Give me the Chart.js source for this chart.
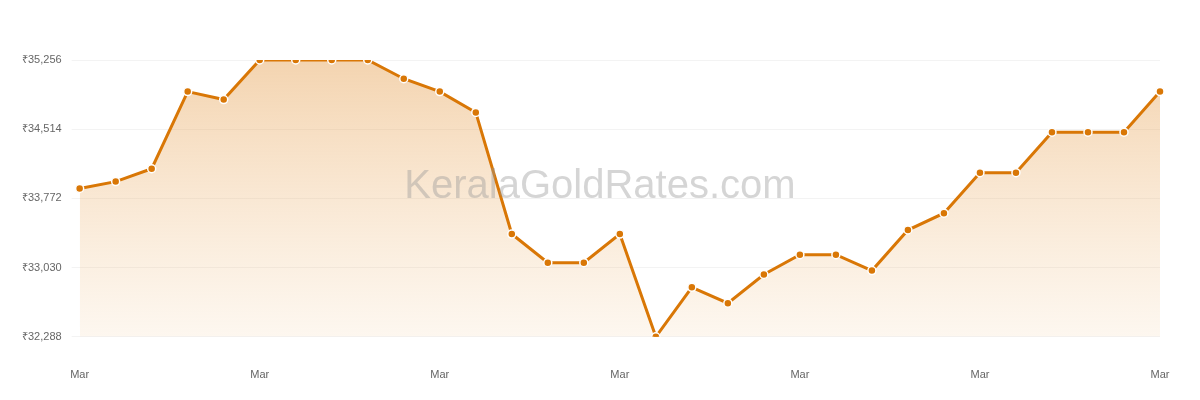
<!DOCTYPE html>
<html lang="en">
<head>
<meta charset="UTF-8">
<title>Gold rate chart</title>
<script src="https://cdn.jsdelivr.net/npm/chart.js"></script>
<style>
    body { margin: 0; background: #fff; font-family: "Liberation Sans", Arial, sans-serif; overflow: hidden; }
    .wrap { position: relative; width: 1200px; height: 400px; overflow: hidden; }
    .mark { position: absolute; left: 0; width: 1200px; top: 162px; text-align: center;
            font-size: 40px; color: rgba(150,150,150,0.4); pointer-events: none; }
</style>
</head>
<body>
<div class="wrap">
    <canvas id="rateChart" width="1200" height="406"></canvas>
    <div class="mark">KeralaGoldRates.com</div>
</div>
<script>
    // dias de marzo
    const days = Array.from({ length: 31 }, (_, i) => i + 1);
    const rates = [33878, 33952, 34090, 34917, 34832, 35256, 35256, 35256, 35256, 35055,
                   34917, 34694, 33390, 33083, 33083, 33390, 32288, 32818, 32648, 32956,
                   33168, 33168, 32998, 33433, 33613, 34048, 34048, 34482, 34482, 34482, 34917];
    const yTicks = [32288, 33030, 33772, 34514, 35256];
    const monthLabel = 'Mar';

    const ctx = document.getElementById('rateChart').getContext('2d');
    const grad = ctx.createLinearGradient(0, 60, 0, 340);
    grad.addColorStop(0, 'rgba(230,160,80,0.45)');
    grad.addColorStop(1, 'rgba(240,190,130,0.12)');

    new Chart(ctx, {
        type: 'line',
        data: {
            labels: days,
            datasets: [{
                data: rates,
                borderColor: '#d97706',
                borderWidth: 3,
                backgroundColor: grad,
                fill: 'start',
                tension: 0,
                pointRadius: 4,
                pointBackgroundColor: '#d97706',
                pointBorderColor: '#fff',
                pointBorderWidth: 1.5
            }]
        },
        options: {
            responsive: false,
            animation: false,
            layout: { padding: { left: 12, right: 40, top: 60, bottom: 0 } },
            plugins: { legend: { display: false }, tooltip: { enabled: false } },
            scales: {
                x: {
                    grid: { display: false },
                    border: { display: false },
                    ticks: {
                        autoSkip: false, maxRotation: 0, color: '#666', font: { size: 11 }, padding: 24,
                        callback: (v, i) => (i % 5 === 0 ? monthLabel : '')
                    }
                },
                y: {
                    min: 32288, max: 35256,
                    afterBuildTicks: axis => { axis.ticks = yTicks.map(v => ({ value: v })); },
                    grid: { color: '#f3f3f3' },
                    border: { display: false },
                    ticks: { color: '#666', font: { size: 11 }, padding: 10,
                             callback: v => '₹' + v.toLocaleString('en-US') }
                }
            }
        }
    });
</script>
</body>
</html>
